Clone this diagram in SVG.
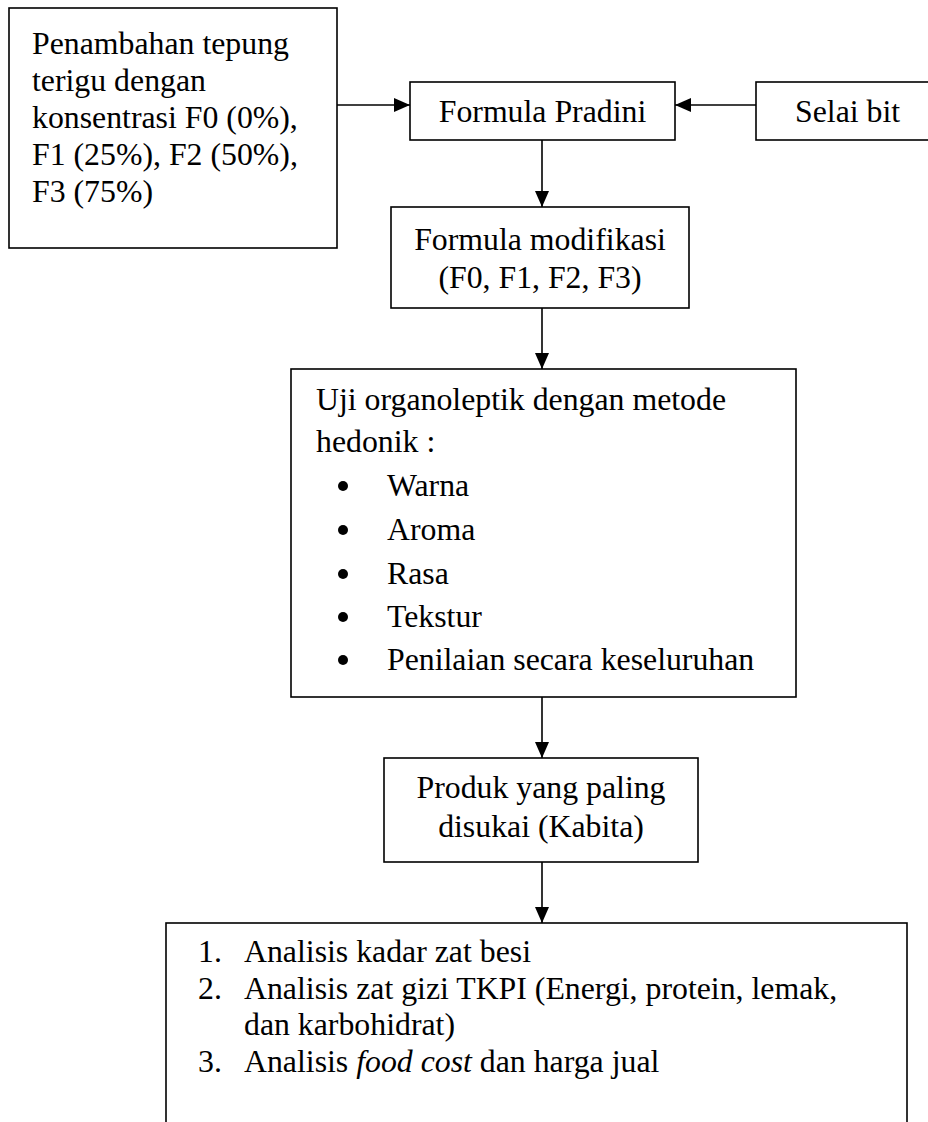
<svg xmlns="http://www.w3.org/2000/svg" width="928" height="1122" viewBox="0 0 928 1122">
<style>
.box{fill:#fff;stroke:#000;stroke-width:1.6}
.t{font-family:"Liberation Serif","Times New Roman",serif;font-size:31.8px;fill:#000}
.c{text-anchor:middle}
.ln{stroke:#000;stroke-width:1.6;fill:none}
.dot{fill:#000}
</style>
<defs>
<marker id="ah" markerUnits="userSpaceOnUse" markerWidth="16" markerHeight="14" refX="16" refY="7" orient="auto">
<path d="M0,0 L16,7 L0,14 z" fill="#000"/>
</marker>
</defs>
<rect width="928" height="1122" fill="#fff"/>
<g id="connectors">
<line class="ln" x1="337" y1="105" x2="410" y2="105" marker-end="url(#ah)"/>
<line class="ln" x1="756" y1="105" x2="675" y2="105" marker-end="url(#ah)"/>
<line class="ln" x1="542" y1="140" x2="542" y2="207" marker-end="url(#ah)"/>
<line class="ln" x1="542" y1="308" x2="542" y2="369" marker-end="url(#ah)"/>
<line class="ln" x1="542" y1="697" x2="542" y2="758" marker-end="url(#ah)"/>
<line class="ln" x1="542" y1="862" x2="542" y2="923" marker-end="url(#ah)"/>
</g>
<g id="node-penambahan">
<rect class="box" x="9" y="8" width="328" height="240"/>
<text class="t" x="32" y="54">Penambahan tepung</text>
<text class="t" x="32" y="91">terigu dengan</text>
<text class="t" x="32" y="128">konsentrasi F0 (0%),</text>
<text class="t" x="32" y="165">F1 (25%), F2 (50%),</text>
<text class="t" x="32" y="202">F3 (75%)</text>
</g>
<g id="node-pradini">
<rect class="box" x="410" y="82" width="265" height="58"/>
<text class="t c" x="542.5" y="122">Formula Pradini</text>
</g>
<g id="node-selai">
<rect class="box" x="756" y="82" width="180" height="58"/>
<text class="t" x="795" y="122">Selai bit</text>
</g>
<g id="node-modifikasi">
<rect class="box" x="391" y="207" width="298" height="101"/>
<text class="t c" x="540" y="250">Formula modifikasi</text>
<text class="t c" x="540" y="288">(F0, F1, F2, F3)</text>
</g>
<g id="node-uji">
<rect class="box" x="291" y="369" width="505" height="328"/>
<text class="t" x="316" y="410">Uji organoleptik dengan metode</text>
<text class="t" x="316" y="452">hedonik :</text>
<circle class="dot" cx="343" cy="486" r="5"/>
<text class="t" x="387" y="496">Warna</text>
<circle class="dot" cx="343" cy="530" r="5"/>
<text class="t" x="387" y="540">Aroma</text>
<circle class="dot" cx="343" cy="574" r="5"/>
<text class="t" x="387" y="584">Rasa</text>
<circle class="dot" cx="343" cy="617" r="5"/>
<text class="t" x="387" y="627">Tekstur</text>
<circle class="dot" cx="343" cy="660" r="5"/>
<text class="t" x="387" y="670">Penilaian secara keseluruhan</text>
</g>
<g id="node-produk">
<rect class="box" x="384" y="758" width="314" height="104"/>
<text class="t c" x="541" y="798">Produk yang paling</text>
<text class="t c" x="541" y="837">disukai (Kabita)</text>
</g>
<g id="node-analisis">
<rect class="box" x="166" y="923" width="741" height="220"/>
<text class="t" x="198" y="962">1.</text>
<text class="t" x="244" y="962">Analisis kadar zat besi</text>
<text class="t" x="198" y="998.5">2.</text>
<text class="t" x="244" y="998.5">Analisis zat gizi TKPI (Energi, protein, lemak,</text>
<text class="t" x="244" y="1035">dan karbohidrat)</text>
<text class="t" x="198" y="1071.5">3.</text>
<text class="t" x="244" y="1071.5">Analisis <tspan font-style="italic">food cost</tspan> dan harga jual</text>
</g>
</svg>
